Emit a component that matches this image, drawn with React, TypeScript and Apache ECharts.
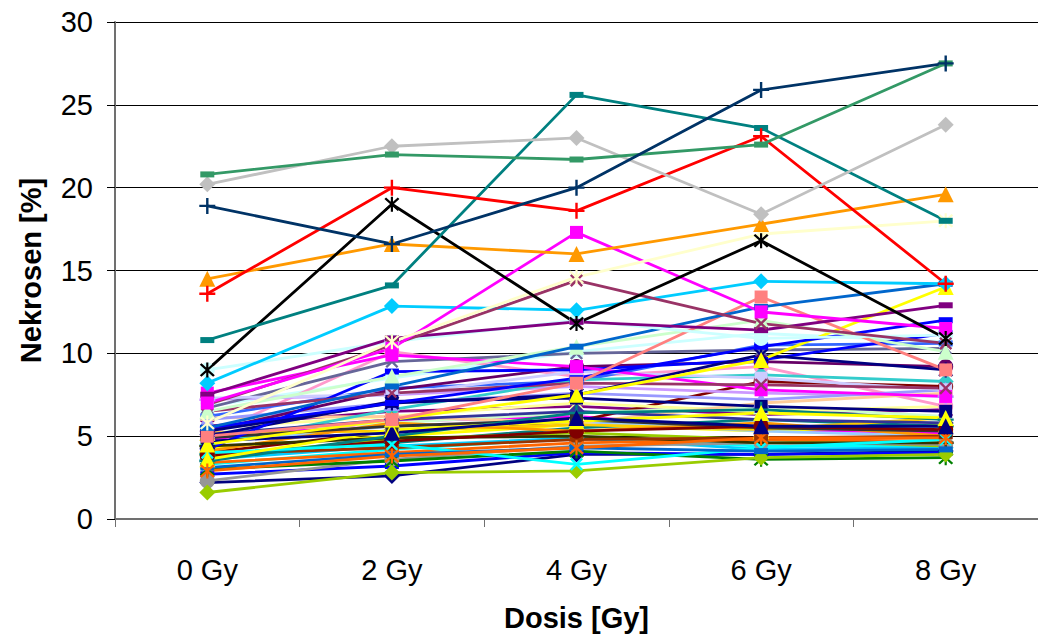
import React, { useEffect, useRef } from "react";
import * as echarts from "echarts";

// Dose levels on the category axis
const categories = ["0 Gy", "2 Gy", "4 Gy", "6 Gy", "8 Gy"];

// Y axis range / ticks (percent necrosis)
const yMin = 0;
const yMax = 30;
const yStep = 5;

// One row per sample: necrosis [%] at 0, 2, 4, 6, 8 Gy
const seriesValues: number[][] = [
  [2.2, 2.6, 3.9, 3.9, 4.1],
  [4.8, 5.9, 6.2, 5.4, 5.2],
  [4.3, 5.0, 5.7, 5.3, 5.7],
  [3.3, 4.2, 4.9, 4.4, 4.4],
  [5.6, 6.5, 6.8, 6.3, 6.6],
  [4.0, 5.3, 5.9, 8.3, 8.0],
  [3.9, 4.6, 5.5, 6.0, 5.6],
  [2.7, 3.2, 4.0, 3.9, 4.0],
  [3.6, 4.4, 4.9, 4.2, 4.3],
  [6.8, 8.5, 10.1, 11.2, 10.7],
  [5.2, 5.8, 6.4, 6.8, 6.2],
  [5.5, 6.2, 7.0, 6.5, 6.8],
  [4.6, 5.6, 5.9, 5.3, 5.0],
  [5.0, 10.1, 8.6, 9.2, 6.8],
  [7.2, 7.5, 8.0, 7.6, 7.4],
  [6.1, 6.2, 5.8, 7.0, 7.6],
  [6.2, 7.9, 8.3, 10.5, 10.6],
  [4.5, 6.6, 8.4, 8.7, 8.3],
  [3.8, 4.8, 5.2, 4.8, 4.4],
  [5.2, 5.3, 5.7, 5.4, 6.1],
  [4.1, 5.8, 5.3, 5.8, 5.0],
  [3.4, 4.0, 4.6, 4.8, 4.7],
  [6.7, 9.5, 10.0, 10.2, 10.3],
  [2.3, 3.6, 4.4, 4.6, 4.5],
  [3.0, 3.5, 4.1, 3.6, 3.7],
  [4.4, 4.9, 5.0, 4.6, 4.6],
  [3.9, 4.3, 4.8, 4.9, 5.0],
  [5.1, 6.0, 6.5, 6.0, 5.8],
  [4.9, 5.6, 6.0, 5.5, 5.3],
  [6.0, 7.0, 7.6, 7.2, 7.8],
  [5.3, 7.8, 9.2, 9.5, 9.2],
  [7.3, 7.5, 8.9, 8.5, 7.8],
  [5.0, 7.1, 7.3, 6.8, 6.5],
  [4.2, 8.9, 9.0, 9.6, 11.2],
  [7.6, 9.9, 9.2, 7.8, 7.4],
  [3.8, 4.7, 5.3, 5.6, 5.4],
  [3.5, 5.0, 6.4, 6.6, 6.0],
  [1.6, 2.8, 2.9, 3.7, 3.9],
  [4.0, 4.5, 3.3, 4.3, 4.8],
  [3.1, 3.9, 4.3, 4.1, 4.2],
  [3.6, 5.4, 5.9, 6.4, 6.1],
  [2.9, 3.8, 4.3, 4.9, 4.9],
  [4.7, 5.2, 6.1, 5.6, 5.6],
  [6.5, 7.6, 8.2, 8.1, 7.9],
  [5.3, 7.0, 7.5, 9.9, 9.0],
  [4.5, 6.0, 7.5, 9.6, 14.0],
  [5.5, 7.0, 8.5, 10.4, 12.0],
  [6.5, 8.6, 10.4, 12.0, 10.1],
  [5.0, 6.0, 8.2, 13.4, 9.0],
  [5.5, 8.0, 10.4, 12.8, 14.2],
  [9.0, 10.7, 12.0, 10.9, 11.1],
  [7.5, 10.9, 11.9, 11.4, 12.9],
  [8.2, 12.85, 12.6, 14.35, 14.2],
  [6.9, 10.5, 14.4, 11.8, 10.6],
  [7.0, 10.3, 17.3, 12.5, 11.5],
  [5.8, 10.7, 14.6, 17.2, 18.0],
  [14.5, 16.6, 16.0, 17.8, 19.6],
  [9.0, 19.0, 11.8, 16.8, 10.9],
  [10.8, 14.1, 25.6, 23.6, 18.0],
  [13.6, 20.0, 18.6, 23.1, 14.2],
  [20.2, 22.5, 23.0, 18.4, 23.8],
  [20.8, 22.0, 21.7, 22.6, 27.5],
  [18.9, 16.6, 20.0, 25.9, 27.5],
];

const seriesColors: string[] = [
  "#000080", "#FF00FF", "#FFFF00", "#00FFFF", "#800080", "#800000", "#008080", "#0000FF",
  "#00CCFF", "#CCFFFF", "#CCFFCC", "#FFFF99", "#99CCFF", "#FF99CC", "#CC99FF", "#FFCC99",
  "#3366FF", "#33CCCC", "#99CC00", "#FFCC00", "#FF9900", "#FF6600", "#666699", "#969696",
  "#008000", "#333300", "#993300", "#333399", "#333333", "#9999FF", "#660066", "#CCCCFF",
  "#000080", "#0000FF", "#FF00FF", "#800000", "#008080", "#99CC00", "#00FFFF", "#0066CC",
  "#FFFF00", "#FF6600", "#000080", "#993366", "#000080", "#FFFF00", "#0000FF", "#CCFFCC",
  "#FF8080", "#0066CC", "#CCFFFF", "#800080", "#00CCFF", "#993366", "#FF00FF", "#FFFFCC",
  "#FF9900", "#000000", "#008080", "#FF0000", "#C0C0C0", "#339966", "#003366",
];

const seriesMarkers: string[] = [
  "diamond", "square", "triangle", "x", "star", "circle", "plus", "dash",
  "diamond", "square", "triangle", "x", "star", "circle", "plus", "dash",
  "dash", "diamond", "square", "triangle", "x", "star", "x", "circle",
  "star", "plus", "dash", "diamond", "square", "triangle", "circle", "square",
  "square", "dash", "square", "circle", "plus", "diamond", "x", "dash",
  "triangle", "star", "triangle", "x", "star", "triangle", "dash", "triangle",
  "square", "dash", "circle", "dash", "diamond", "x", "square", "star",
  "triangle", "star", "dash", "plus", "diamond", "dash", "plus",
];

// Cross-shaped marker outlines in a 20x20 box
const PLUS_PATH = "path://M8.5,0h3v8.5h8.5v3h-8.5v8.5h-3v-8.5h-8.5v-3h8.5z";
const STAR_PATH =
  "path://M8.7,0h2.6v20h-2.6z M1,3L3,1L19,17L17,19z M17,1L19,3L3,19L1,17z";

function markerStyle(kind: string) {
  switch (kind) {
    case "diamond":
      return { symbol: "diamond", symbolSize: 16, symbolRotate: 0 };
    case "square":
      return { symbol: "rect", symbolSize: 13, symbolRotate: 0 };
    case "triangle":
      return { symbol: "triangle", symbolSize: 16, symbolRotate: 0 };
    case "circle":
      return { symbol: "circle", symbolSize: 15, symbolRotate: 0 };
    case "x":
      return { symbol: PLUS_PATH, symbolSize: 16, symbolRotate: 45 };
    case "star":
      return { symbol: STAR_PATH, symbolSize: 15, symbolRotate: 0 };
    case "plus":
      return { symbol: PLUS_PATH, symbolSize: 16, symbolRotate: 0 };
    default:
      return { symbol: "rect", symbolSize: [14, 6], symbolRotate: 0 };
  }
}

const FONT = "'Liberation Sans', Arial, Helvetica, sans-serif";

export default function App() {
  const ref = useRef<HTMLDivElement>(null);

  useEffect(() => {
    document.body.style.margin = "0";
    if (!ref.current) return;
    const chart = echarts.init(ref.current, null, { renderer: "svg" });

    const series = seriesValues.map((vals, i) => {
      const m = markerStyle(seriesMarkers[i]);
      return {
        type: "line" as const,
        name: "Probe " + (i + 1),
        data: vals,
        symbol: m.symbol,
        symbolSize: m.symbolSize,
        symbolRotate: m.symbolRotate,
        showAllSymbol: true,
        lineStyle: { color: seriesColors[i], width: 2.8 },
        itemStyle: { color: seriesColors[i], borderWidth: 0 },
        emphasis: { disabled: true },
      };
    });

    chart.setOption({
      animation: false,
      backgroundColor: "#ffffff",
      grid: { left: 115, top: 22, width: 933, height: 497, containLabel: false },
      xAxis: {
        type: "category",
        data: categories,
        boundaryGap: true,
        name: "Dosis [Gy]",
        nameLocation: "middle",
        nameGap: 84,
        nameTextStyle: { fontFamily: FONT, fontSize: 29, fontWeight: "bold", color: "#000" },
        axisLine: { lineStyle: { color: "#707070", width: 2 } },
        axisTick: { show: true, length: 8, lineStyle: { color: "#707070", width: 1 } },
        axisLabel: { margin: 36, fontFamily: FONT, fontSize: 29, color: "#000" },
        splitLine: { show: false },
      },
      yAxis: {
        type: "value",
        min: yMin,
        max: yMax,
        interval: yStep,
        name: "Nekrosen [%]",
        nameLocation: "middle",
        nameGap: 70,
        nameTextStyle: { fontFamily: FONT, fontSize: 29, fontWeight: "bold", color: "#000" },
        axisLine: { show: true, lineStyle: { color: "#707070", width: 2 } },
        axisTick: { show: true, length: 8, inside: false, lineStyle: { color: "#000", width: 1 } },
        axisLabel: { margin: 22, fontFamily: FONT, fontSize: 29, color: "#000" },
        splitLine: { show: true, lineStyle: { color: "#000", width: 1 } },
      },
      series,
    });

    return () => chart.dispose();
  }, []);

  return <div ref={ref} style={{ width: 1038, height: 639 }} />;
}
